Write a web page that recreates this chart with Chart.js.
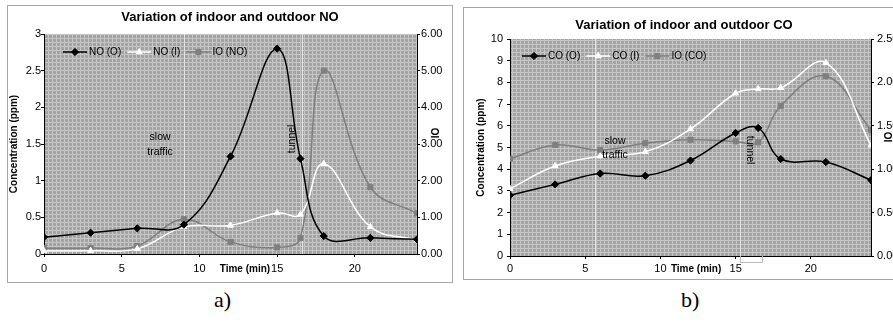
<!DOCTYPE html>
<html>
<head>
<meta charset="utf-8">
<script src="https://cdn.jsdelivr.net/npm/chart.js@4.4.1/dist/chart.umd.min.js"></script>
<style>
  html, body { margin: 0; padding: 0; background: #fff; width: 893px; height: 322px; overflow: hidden; }
  .panel { position: absolute; border: 1px solid #a6a6a6; background: #fff; overflow: hidden; }
  #pa { left: 7px; top: 5px; width: 444px; height: 276px; }
  #pb { left: 463px; top: 7px; width: 440px; height: 271px; }
  .panel canvas { position: absolute; left: 0; top: 0; }
  .cap { position: absolute; top: 287px; font-family: 'Liberation Serif', 'Times New Roman', serif; font-size: 22px; color: #000; }
</style>
</head>
<body>
<div class="panel" id="pa"><canvas id="chartNO" width="444" height="276"></canvas></div>
<div class="panel" id="pb"><canvas id="chartCO" width="440" height="271"></canvas></div>
<div class="cap" style="left:214px">a)</div>
<div class="cap" style="left:681px">b)</div>
<script>
// sampling times (min)
const timeMin = [0, 3, 6, 9, 12, 15, 16.5, 18, 21, 24];
const timeTicks = [0, 5, 10, 15, 20];

// NO (ppm) and indoor/outdoor ratio
const noOut = [0.23, 0.29, 0.35, 0.4, 1.33, 2.8, 1.3, 0.245, 0.22, 0.2];
const noIn  = [0.04, 0.045, 0.07, 0.37, 0.39, 0.56, 0.54, 1.23, 0.37, 0.19];
const ioNo  = [0.16, 0.16, 0.22, 0.95, 0.33, 0.18, 0.44, 5.0, 1.82, 1.11];
const noTicks = [0, 0.5, 1, 1.5, 2, 2.5, 3];
const ioNoTicks = [0, 1, 2, 3, 4, 5, 6];

// CO (ppm) and indoor/outdoor ratio
const coOut = [2.8, 3.3, 3.8, 3.7, 4.4, 5.67, 5.9, 4.47, 4.33, 3.5];
const coIn  = [3.1, 4.15, 4.6, 4.8, 5.85, 7.5, 7.7, 7.75, 8.9, 5.1];
const ioCo  = [1.12, 1.28, 1.22, 1.3, 1.34, 1.32, 1.31, 1.73, 2.07, 1.45];
const coTicks = [0, 1, 2, 3, 4, 5, 6, 7, 8, 9, 10];
const ioCoTicks = [0, 0.5, 1, 1.5, 2, 2.5];

const FONT = "Arial, 'Liberation Sans', sans-serif";
Chart.defaults.font.family = FONT;
Chart.defaults.color = '#000';

function hatch(ctx) {
  const c = document.createElement('canvas');
  c.width = 4; c.height = 4;
  const g = c.getContext('2d');
  g.fillStyle = '#a3a3a3'; g.fillRect(0, 0, 4, 4);
  g.fillStyle = '#c6c6c6'; g.fillRect(0, 0, 4, 1); g.fillRect(0, 0, 1, 4);
  return ctx.createPattern(c, 'repeat');
}

function series(label, ys, axis, kind) {
  const st = {
    out: { color: '#000000', point: 'rectRot', r: 3.6 },
    in:  { color: '#ffffff', point: 'triangle', r: 3.5 },
    io:  { color: '#7f7f7f', point: 'rect', r: 3.6 }
  }[kind];
  return {
    label,
    data: timeMin.map((t, i) => ({ x: t, y: ys[i] })),
    yAxisID: axis,
    borderColor: st.color,
    backgroundColor: st.color,
    borderWidth: 1.5,
    pointStyle: st.point,
    pointRadius: st.r,
    pointBorderWidth: 1,
    tension: 0.4,
    fill: false
  };
}

// marker lines, notes, legend and axis captions drawn over the library's scales
const notesPlugin = {
  id: 'notes',
  beforeDraw(chart) {
    const { ctx, chartArea: a } = chart;
    ctx.save();
    ctx.fillStyle = hatch(ctx);
    ctx.fillRect(a.left, a.top, a.right - a.left, a.bottom - a.top);
    ctx.restore();
  },
  beforeDatasetsDraw(chart, args, o) {
    const { ctx, chartArea: a, scales: { x } } = chart;
    ctx.save();
    ctx.strokeStyle = '#e2e2e2';
    ctx.lineWidth = 1;
    o.vlines.forEach(v => {
      const px = Math.round(x.getPixelForValue(v)) + 0.5;
      ctx.beginPath(); ctx.moveTo(px, a.top); ctx.lineTo(px, a.bottom); ctx.stroke();
    });
    if (o.bracket) {
      const x1 = Math.round(x.getPixelForValue(o.bracket[0])) + 0.5;
      const x2 = Math.round(x.getPixelForValue(o.bracket[1])) + 0.5;
      ctx.strokeStyle = '#b8b8b8';
      ctx.beginPath();
      ctx.moveTo(x1, a.bottom); ctx.lineTo(x1, a.bottom + 6.5);
      ctx.lineTo(x2, a.bottom + 6.5); ctx.lineTo(x2, a.bottom);
      ctx.stroke();
    }
    ctx.restore();
  },
  afterDraw(chart, args, o) {
    const { ctx, chartArea: a, scales: { x, y, y2 } } = chart;
    ctx.save();
    ctx.fillStyle = '#000';
    ctx.textAlign = 'center';
    ctx.textBaseline = 'middle';

    // notes inside the plot
    ctx.font = '10.5px ' + FONT;
    o.notes.forEach(n => {
      const px = x.getPixelForValue(n.x), py = y.getPixelForValue(n.y);
      ctx.save();
      ctx.translate(px, py);
      if (n.rot) ctx.rotate(n.rot * Math.PI / 180);
      ctx.fillText(n.text, 0, 0);
      ctx.restore();
    });

    // x axis caption sits on the tick label line
    ctx.font = 'bold 10px ' + FONT;
    ctx.fillText('Time (min)', x.getPixelForValue(o.timeAt), a.bottom + o.timeDy);

    // secondary axis caption
    ctx.save();
    ctx.translate(a.right + o.ioDx, y2.getPixelForValue(o.ioAt));
    ctx.rotate(-Math.PI / 2);
    ctx.fillText('IO', 0, 0);
    ctx.restore();

    // legend
    ctx.font = '10px ' + FONT;
    ctx.textAlign = 'left';
    let lx = a.left + o.legendDx;
    const ly = a.top + o.legendDy;
    chart.data.datasets.forEach(ds => {
      ctx.strokeStyle = ds.borderColor;
      ctx.fillStyle = ds.backgroundColor;
      ctx.lineWidth = 1.5;
      ctx.beginPath(); ctx.moveTo(lx, ly); ctx.lineTo(lx + 24, ly); ctx.stroke();
      ctx.lineWidth = 1;
      Chart.helpers.drawPoint(ctx, { pointStyle: ds.pointStyle, radius: ds.pointRadius, rotation: 0, borderWidth: 1 }, lx + 12, ly);
      ctx.fillStyle = '#000';
      ctx.fillText(ds.label, lx + 26, ly);
      lx += 26 + ctx.measureText(ds.label).width + 6;
    });
    ctx.restore();
  }
};

function makeChart(id, cfg) {
  const tickFont = { size: 11 };
  return new Chart(document.getElementById(id), {
    type: 'line',
    data: { datasets: cfg.datasets },
    plugins: [notesPlugin],
    options: {
      responsive: false,
      animation: false,
      events: [],
      layout: { padding: 0 },
      plugins: {
        legend: { display: false },
        tooltip: { enabled: false },
        title: {
          display: true,
          text: cfg.title,
          font: { size: 13, weight: 'bold' },
          color: '#000',
          padding: cfg.titlePad
        },
        notes: cfg.notes
      },
      scales: {
        x: {
          type: 'linear', min: 0, max: 24,
          afterBuildTicks: s => { s.ticks = timeTicks.map(v => ({ value: v })); },
          afterFit: s => { s.height = cfg.xHeight; },
          border: { color: '#000', width: 1 },
          grid: { drawOnChartArea: false, tickLength: 3, color: '#000' },
          ticks: { font: tickFont, padding: cfg.xPad, maxRotation: 0, callback: v => String(v) }
        },
        y: {
          position: 'left', min: cfg.yTicks[0], max: cfg.yTicks[cfg.yTicks.length - 1],
          afterBuildTicks: s => { s.ticks = cfg.yTicks.map(v => ({ value: v })); },
          afterFit: s => { s.width = cfg.yWidth; },
          border: { color: '#000', width: 1 },
          grid: { drawOnChartArea: false, tickLength: 3, color: '#000' },
          ticks: { font: tickFont, padding: cfg.yPad, callback: v => String(v) },
          title: {
            display: true, text: 'Concentration (ppm)',
            font: { size: 10, weight: 'bold' }, color: '#000',
            padding: { top: cfg.yTitlePad, bottom: 0 }
          }
        },
        y2: {
          position: 'right', min: cfg.y2Ticks[0], max: cfg.y2Ticks[cfg.y2Ticks.length - 1],
          afterBuildTicks: s => { s.ticks = cfg.y2Ticks.map(v => ({ value: v })); },
          afterFit: s => { s.width = cfg.y2Width; },
          border: { color: '#000', width: 1 },
          grid: { drawOnChartArea: false, tickLength: 3, color: '#000' },
          ticks: { font: tickFont, padding: cfg.y2Pad, callback: v => v.toFixed(2) }
        }
      }
    }
  });
}

makeChart('chartNO', {
  title: 'Variation of indoor and outdoor NO',
  titlePad: { top: 3.2, bottom: 9.2 },
  datasets: [
    series('NO (O)', noOut, 'y', 'out'),
    series('NO (I)', noIn, 'y', 'in'),
    series('IO (NO)', ioNo, 'y2', 'io')
  ],
  yTicks: noTicks, y2Ticks: ioNoTicks,
  xHeight: 28, xPad: 5,
  yWidth: 36, yPad: 0, yTitlePad: 0,
  y2Width: 35, y2Pad: 1,
  notes: {
    vlines: [9, 16.6],
    bracket: null,
    notes: [
      { text: 'slow', x: 7.47, y: 1.6 },
      { text: 'traffic', x: 7.47, y: 1.39 },
      { text: 'tunnel', x: 15.95, y: 1.57, rot: -90 }
    ],
    timeAt: 12.93, timeDy: 15,
    ioAt: 3.3, ioDx: 19,
    legendDx: 19, legendDy: 18
  }
});

makeChart('chartCO', {
  title: 'Variation of indoor and outdoor CO',
  titlePad: { top: 9.2, bottom: 6.2 },
  datasets: [
    series('CO (O)', coOut, 'y', 'out'),
    series('CO (I)', coIn, 'y', 'in'),
    series('IO (CO)', ioCo, 'y2', 'io')
  ],
  yTicks: coTicks, y2Ticks: ioCoTicks,
  xHeight: 23, xPad: 3,
  yWidth: 46, yPad: 4, yTitlePad: 11,
  y2Width: 33, y2Pad: 3,
  notes: {
    vlines: [5.65, 15.3],
    bracket: [15.3, 16.75],
    notes: [
      { text: 'slow', x: 6.98, y: 5.3 },
      { text: 'traffic', x: 6.98, y: 4.65 },
      { text: 'tunnel', x: 15.96, y: 4.88, rot: 90 }
    ],
    timeAt: 12.37, timeDy: 13,
    ioAt: 1.37, ioDx: 18,
    legendDx: 12, legendDy: 17
  }
});
</script>
</body>
</html>
